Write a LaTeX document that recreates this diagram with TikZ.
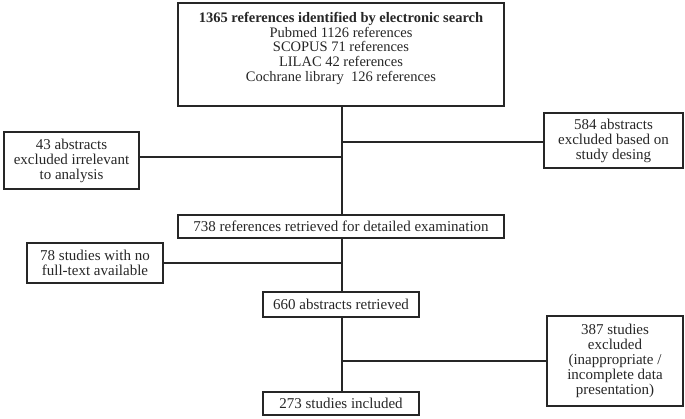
\documentclass[tikz,border=0pt]{standalone}
\usepackage{fontspec}
\setmainfont{Liberation Serif}
\begin{document}
\begin{tikzpicture}[x=1pt,y=-1pt,
  box/.style={draw=black!85,line width=1.4pt,align=center,inner sep=0pt,
    font=\fontsize{15}{15}\selectfont,text=black!85},
  txt/.style={align=center,inner sep=0pt,font=\fontsize{14.5}{14.6}\selectfont,text=black!85},
  link/.style={draw=black!85,line width=1.4pt}]
\useasboundingbox (0,0) rectangle (685,419);
\node[box,minimum width=326,minimum height=103] (top) at (341,54.5) {};
\node[txt,anchor=north] (toptext) at ([yshift=-10]top.north) {\textbf{1365 references identified by electronic search}\\
Pubmed 1126 references\\SCOPUS 71 references\\LILAC 42 references\\Cochrane library~~126 references};
\node[box,minimum width=135,minimum height=57] (exA) at (71.5,160.5) {43 abstracts\\excluded irrelevant\\to analysis};
\node[box,minimum width=139,minimum height=55] (exB) at (613.5,140.5) {584 abstracts\\excluded based on\\study desing};
\node[box,minimum width=326,minimum height=23,font=\fontsize{15}{15}\selectfont] (ret) at (341,226.5) {738 references retrieved for detailed examination};
\node[box,minimum width=136,minimum height=40] (exC) at (95,263) {78 studies with no\\full-text available};
\node[box,minimum width=156,minimum height=25] (abs) at (341,304.5) {660 abstracts retrieved};
\node[box,minimum width=136,minimum height=90] (exD) at (615,361) {387 studies\\excluded\\(inappropriate /\\incomplete data\\presentation)};
\node[box,minimum width=156,minimum height=23] (inc) at (341,403.5) {273 studies included};
\coordinate (jA) at (342,157);
\coordinate (jB) at (342,142);
\coordinate (jC) at (342,263);
\coordinate (jD) at (342,361);
\draw[link] (top.south -| jA) -- (ret.north -| jA);
\draw[link] (exA.east |- jA) -- (jA);
\draw[link] (jB) -- (exB.west |- jB);
\draw[link] (ret.south -| jC) -- (abs.north -| jC);
\draw[link] (exC.east |- jC) -- (jC);
\draw[link] (abs.south -| jD) -- (inc.north -| jD);
\draw[link] (jD) -- (exD.west |- jD);
\end{tikzpicture}
\end{document}
